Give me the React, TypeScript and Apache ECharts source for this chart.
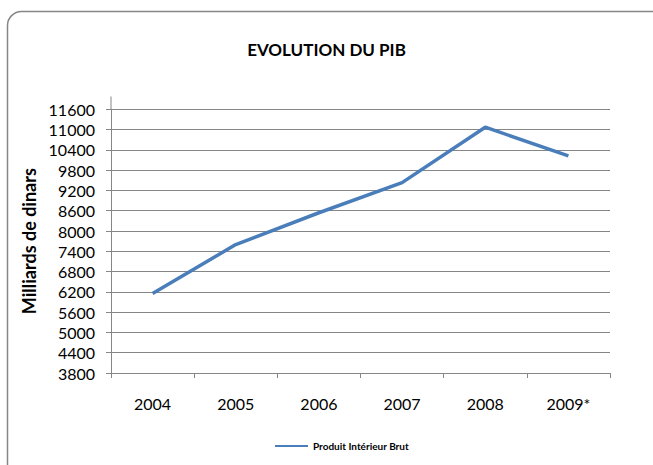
import React, { useEffect, useRef } from "react";
import * as echarts from "echarts";

const title = "EVOLUTION DU PIB";
const yAxisName = "Milliards de dinars";
const seriesName = "Produit Intérieur Brut";
const categories = ["2004", "2005", "2006", "2007", "2008", "2009*"];
const values = [6150, 7600, 8540, 9430, 11070, 10220];
const yMin = 3800;
const yMax = 11600;
const yStep = 600;

const FONT = "Lato, 'Open Sans', sans-serif";

export default function App() {
  const ref = useRef<HTMLDivElement>(null);
  useEffect(() => {
    if (!ref.current) return;
    const chart = echarts.init(ref.current, null, { renderer: "svg" });
    chart.setOption({
      animation: false,
      backgroundColor: "#ffffff",
      textStyle: { fontFamily: FONT, color: "#000" },
      title: {
        text: title,
        left: "center",
        top: 36,
        textStyle: { fontFamily: FONT, fontSize: 17, fontWeight: "bold", color: "#000" },
      },
      legend: {
        data: [seriesName],
        left: 270,
        top: 436,
        padding: 5,
        icon: "rect",
        itemWidth: 33,
        itemHeight: 2,
        itemStyle: { color: "#4a7ebb" },
        textStyle: { fontFamily: FONT, fontSize: 10, fontWeight: "bold", color: "#000" },
      },
      grid: { left: 111, right: 43, top: 109.3, bottom: 92 },
      xAxis: {
        type: "category",
        data: categories,
        boundaryGap: true,
        axisLine: { lineStyle: { color: "#868686", width: 1 } },
        axisTick: { show: true, length: 5, lineStyle: { color: "#868686" } },
        axisLabel: { margin: 22, fontFamily: FONT, fontSize: 16, color: "#000" },
      },
      yAxis: {
        type: "value",
        min: yMin,
        max: yMax,
        interval: yStep,
        name: yAxisName,
        nameLocation: "middle",
        nameGap: 72,
        nameTextStyle: { fontFamily: FONT, fontSize: 18, fontWeight: "bold", color: "#000" },
        axisLine: { show: true, lineStyle: { color: "#868686", width: 1 } },
        axisTick: { show: true, length: 5, lineStyle: { color: "#868686" } },
        axisLabel: {
          margin: 16,
          fontFamily: FONT,
          fontSize: 16,
          color: "#000",
          formatter: (v: number) => String(v),
        },
        splitLine: { show: true, lineStyle: { color: "#868686", width: 1 } },
      },
      graphic: [
        {
          type: "rect",
          shape: { x: 7.5, y: 11.5, width: 660, height: 470, r: 14 },
          style: { fill: "none", stroke: "#868686", lineWidth: 1.5 },
          z: 100,
        },
        {
          type: "line",
          shape: { x1: 111, y1: 96.5, x2: 111, y2: 109.3 },
          style: { stroke: "#868686", lineWidth: 1 },
        },
      ],
      series: [
        {
          name: seriesName,
          type: "line",
          data: values,
          symbol: "none",
          lineStyle: { color: "#4a7ebb", width: 3.5 },
          itemStyle: { color: "#4a7ebb" },
        },
      ],
    });
    return () => chart.dispose();
  }, []);
  return (
    <div
      ref={ref}
      style={{ position: "fixed", left: 0, top: 0, width: 653, height: 465 }}
    />
  );
}
